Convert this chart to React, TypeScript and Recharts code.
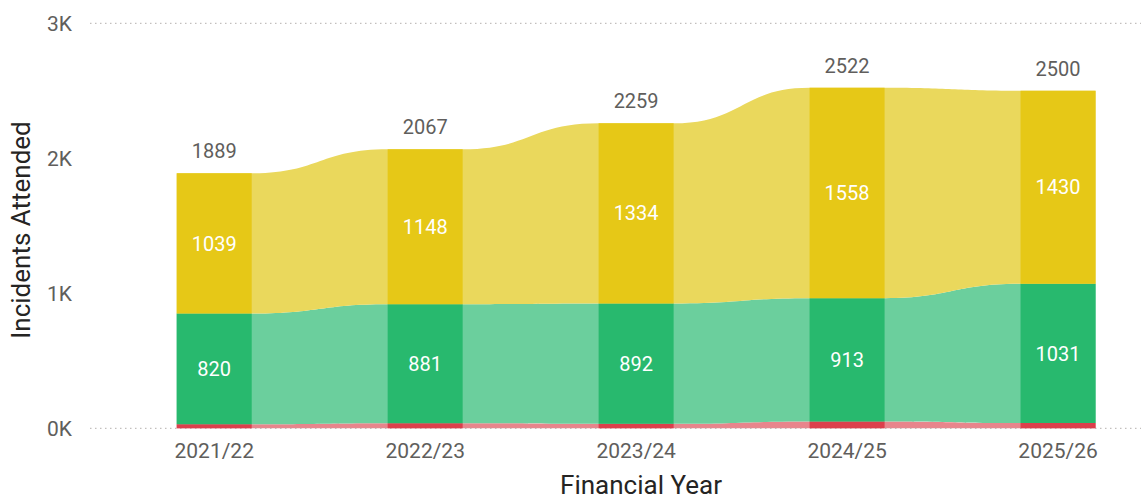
import React from 'react';
import { ComposedChart, BarChart, Area, Bar, XAxis, YAxis, CartesianGrid, LabelList } from 'recharts';

const years = ['2021/22', '2022/23', '2023/24', '2024/25', '2025/26'];
const yellowSeries = [1039, 1148, 1334, 1558, 1430];
const greenSeries = [820, 881, 892, 913, 1031];
const redSeries = [30, 38, 33, 51, 39];
const yTicks = [0, 1000, 2000, 3000];

const FONT = 'Roboto, "Open Sans", sans-serif';
const COLORS = {
  yellowBar: '#E6C817',
  yellowRibbon: '#EAD85C',
  greenBar: '#28B96E',
  greenRibbon: '#6BCF9D',
  redBar: '#DC3F4C',
  redRibbon: '#E8858C',
};

// bar pitch 210.95px, bar width 75px -> half width in category units
const HALF = 37.5 / 210.95;

const barRows = years.map((year, i) => ({
  year,
  red: redSeries[i],
  green: greenSeries[i],
  yellow: yellowSeries[i],
  total: redSeries[i] + greenSeries[i] + yellowSeries[i],
}));

// ribbon points sit on the left and right edge of each bar
const ribbonRows = years.flatMap((_, i) =>
  [-1, 1].map((s) => ({
    x: i + s * HALF,
    red: redSeries[i],
    green: greenSeries[i],
    yellow: yellowSeries[i],
  }))
);

const tickStyle = { fill: '#605E5C', fontSize: 21, fontFamily: FONT };
const layer: React.CSSProperties = { position: 'absolute', left: 0, top: 0 };

export default function App() {
  return (
    <div style={{ position: 'absolute', left: 0, top: 0, width: 1141, height: 500, overflow: 'hidden', background: '#fff', fontFamily: FONT }}>
      {/* ribbons + axes */}
      <div style={layer}>
        <ComposedChart width={1141} height={500} data={ribbonRows} margin={{ top: 23.3, right: 0, left: 0, bottom: 41.7 }}>
          <XAxis
            dataKey="x"
            type="number"
            domain={[-0.589, 4.393]}
            ticks={[0, 1, 2, 3, 4]}
            interval={0}
            tickFormatter={(i: number) => years[i]}
            axisLine={false}
            tickLine={false}
            height={30}
            tickMargin={9}
            tick={tickStyle}
            label={() => (
              <text x={641} y={494} textAnchor="middle" fill="#252423" fontSize={26} fontFamily={FONT}>
                Financial Year
              </text>
            )}
          />
          <YAxis
            type="number"
            domain={[0, 3000]}
            ticks={yTicks}
            tickFormatter={(v: number) => `${v / 1000}K`}
            width={90}
            axisLine={false}
            tickLine={false}
            tickMargin={12}
            tick={tickStyle}
            label={() => (
              <text x={21} y={230} transform="rotate(-90 21 230)" textAnchor="middle" dominantBaseline="central" fill="#252423" fontSize={26} fontFamily={FONT}>
                Incidents Attended
              </text>
            )}
          />
          <Area type="bumpX" dataKey="red" stackId="r" fill={COLORS.redRibbon} fillOpacity={1} stroke="none" isAnimationActive={false} />
          <Area type="bumpX" dataKey="green" stackId="r" fill={COLORS.greenRibbon} fillOpacity={1} stroke="none" isAnimationActive={false} />
          <Area type="bumpX" dataKey="yellow" stackId="r" fill={COLORS.yellowRibbon} fillOpacity={1} stroke="none" isAnimationActive={false} />
        </ComposedChart>
      </div>
      {/* dotted grid sits above the ribbons, below the bars */}
      <div style={layer}>
        <ComposedChart width={1141} height={500} data={barRows} margin={{ top: 23.3, right: 0, left: 90, bottom: 71.7 }}>
          <XAxis dataKey="year" hide />
          <YAxis hide type="number" domain={[0, 3000]} ticks={yTicks} />
          <CartesianGrid vertical={false} strokeDasharray="1.5 3.5" stroke="#B3B0AD" />
        </ComposedChart>
      </div>
      {/* bars + labels */}
      <div style={layer}>
        <BarChart width={1170} height={500} data={barRows} margin={{ top: 23.3, right: 6.5, left: 108.7, bottom: 71.7 }}>
          <XAxis dataKey="year" hide />
          <YAxis hide type="number" domain={[0, 3000]} />
          <Bar dataKey="red" stackId="b" fill={COLORS.redBar} barSize={75} isAnimationActive={false} />
          <Bar dataKey="green" stackId="b" fill={COLORS.greenBar} barSize={75} isAnimationActive={false}>
            <LabelList dataKey="green" position="center" fill="#fff" fontSize={20} fontFamily={FONT} />
          </Bar>
          <Bar dataKey="yellow" stackId="b" fill={COLORS.yellowBar} barSize={75} isAnimationActive={false}>
            <LabelList dataKey="yellow" position="center" fill="#fff" fontSize={20} fontFamily={FONT} />
            <LabelList dataKey="total" position="top" offset={15} fill="#605E5C" fontSize={20} fontFamily={FONT} />
          </Bar>
        </BarChart>
      </div>
    </div>
  );
}
